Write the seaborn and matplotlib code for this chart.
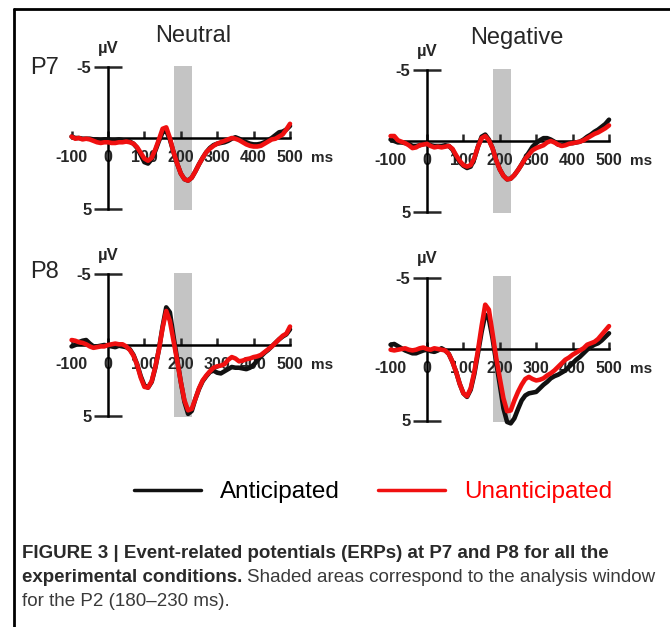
import matplotlib
matplotlib.use("Agg")
import matplotlib.pyplot as plt
import seaborn as sns
import numpy as np
import pandas as pd
from matplotlib.lines import Line2D

# time axis (ms), one reading every 10 ms
times = np.arange(-100, 510, 10)

# ERP amplitudes (uV), -100 .. 500 ms
p7_neutral_ant = [-0.1, 0.0, 0.0, 0.05, 0.05, 0.05, 0.1, 0.1, 0.15, 0.1,
                  0.1, 0.15, 0.15, 0.1, 0.15, 0.2, 0.25, 0.4, 0.7, 1.2,
                  1.7, 1.8, 1.5, 0.9, 0.2, -0.4, -0.5, 0.1, 1.0, 1.8,
                  2.5, 2.9, 3.0, 2.8, 2.35, 1.85, 1.4, 1.0, 0.7, 0.5,
                  0.4, 0.35, 0.3, 0.2, 0.05, -0.05, 0.05, 0.2, 0.3, 0.4,
                  0.45, 0.45, 0.4, 0.3, 0.15, 0.0, -0.2, -0.4, -0.45, -0.6,
                  -0.85]
p7_neutral_unant = [-0.1, 0.05, 0.0, 0.1, 0.05, 0.1, 0.2, 0.3, 0.35, 0.3,
                    0.3, 0.35, 0.35, 0.3, 0.3, 0.25, 0.3, 0.4, 0.65, 1.05,
                    1.45, 1.6, 1.4, 0.8, 0.1, -0.65, -0.75, 0.0, 1.0, 1.8,
                    2.5, 2.9, 3.0, 2.8, 2.35, 1.85, 1.4, 1.0, 0.75, 0.55,
                    0.4, 0.3, 0.2, 0.1, 0.0, 0.05, 0.15, 0.3, 0.45, 0.55,
                    0.6, 0.6, 0.55, 0.4, 0.25, 0.1, 0.05, -0.1, -0.25, -0.6,
                    -1.0]
p7_negative_ant = [-0.1, 0.0, 0.1, 0.1, 0.15, 0.2, 0.35, 0.35, 0.3, 0.2,
                   0.2, 0.3, 0.35, 0.35, 0.35, 0.3, 0.35, 0.6, 1.1, 1.5,
                   1.75, 1.9, 1.8, 1.25, 0.4, -0.3, -0.45, -0.1, 0.5, 1.35,
                   2.0, 2.45, 2.7, 2.65, 2.4, 2.05, 1.65, 1.2, 0.8, 0.4,
                   0.15, -0.05, -0.2, -0.2, -0.1, 0.05, 0.25, 0.3, 0.2, 0.15,
                   0.15, 0.1, 0.05, -0.1, -0.3, -0.45, -0.65, -0.8, -1.0, -1.2,
                   -1.5]
p7_negative_unant = [-0.35, -0.35, -0.05, 0.05, 0.15, 0.3, 0.5, 0.45, 0.3, 0.25,
                     0.2, 0.35, 0.45, 0.4, 0.45, 0.4, 0.35, 0.55, 1.0, 1.4,
                     1.7, 1.8, 1.7, 1.2, 0.4, -0.2, -0.35, -0.05, 0.5, 1.35,
                     2.0, 2.45, 2.7, 2.65, 2.4, 2.05, 1.65, 1.25, 0.95, 0.65,
                     0.5, 0.4, 0.3, 0.1, 0.0, 0.1, 0.25, 0.35, 0.3, 0.2,
                     0.15, 0.1, 0.05, -0.05, -0.2, -0.35, -0.5, -0.6, -0.75, -0.9,
                     -1.1]
p8_neutral_ant = [0.1, 0.0, -0.2, -0.3, -0.35, -0.1, 0.1, 0.1, 0.05, 0.0,
                  0.05, 0.1, 0.15, 0.05, 0.1, 0.15, 0.3, 0.7, 1.35, 2.2,
                  2.85, 3.0, 2.6, 1.6, 0.3, -1.3, -2.65, -2.3, -0.6, 1.0,
                  2.6, 4.0, 4.85, 4.65, 3.8, 3.1, 2.55, 2.2, 1.9, 1.8,
                  1.95, 2.0, 1.85, 1.7, 1.55, 1.6, 1.6, 1.65, 1.7, 1.6,
                  1.4, 1.1, 0.8, 0.55, 0.35, 0.1, -0.15, -0.4, -0.6, -0.75,
                  -1.1]
p8_neutral_unant = [-0.35, -0.3, -0.2, -0.15, -0.05, 0.1, 0.2, 0.15, 0.1, 0.1,
                    0.0, -0.05, -0.1, -0.05, -0.05, 0.1, 0.35, 0.75, 1.4, 2.3,
                    2.95, 3.0, 2.55, 1.55, 0.3, -1.2, -2.4, -1.7, -0.3, 1.1,
                    2.6, 3.9, 4.6, 4.5, 3.8, 3.05, 2.5, 2.15, 1.85, 1.6,
                    1.5, 1.45, 1.35, 1.05, 0.85, 0.95, 1.15, 1.1, 1.0, 0.95,
                    0.85, 0.8, 0.7, 0.5, 0.3, 0.1, -0.15, -0.4, -0.65, -0.8,
                    -1.3]
p8_negative_ant = [-0.3, -0.35, -0.2, -0.05, 0.1, 0.2, 0.3, 0.3, 0.2, 0.1,
                   0.05, 0.15, 0.2, 0.1, -0.05, 0.1, 0.35, 0.9, 1.6, 2.45,
                   3.1, 3.35, 2.85, 1.75, 0.3, -1.2, -2.4, -2.1, -0.75, 0.9,
                   2.5, 4.15, 5.1, 5.2, 4.85, 4.2, 3.6, 3.25, 3.1, 3.05,
                   3.0, 2.75, 2.5, 2.3, 2.05, 1.9, 1.8, 1.65, 1.5, 1.25,
                   1.0, 0.75, 0.55, 0.3, 0.05, -0.15, -0.3, -0.4, -0.6, -0.85,
                   -1.1]
p8_negative_unant = [0.05, 0.1, 0.05, 0.0, -0.05, 0.05, 0.1, 0.05, -0.05, -0.1,
                     0.0, 0.05, -0.05, 0.0, 0.05, 0.1, 0.35, 0.9, 1.6, 2.45,
                     3.1, 3.3, 2.75, 1.6, 0.1, -1.6, -3.1, -2.75, -1.1, 0.6,
                     2.05, 3.45, 4.35, 4.3, 3.6, 3.0, 2.5, 2.1, 1.95, 2.1,
                     2.2, 2.15, 2.05, 1.85, 1.7, 1.5, 1.25, 1.0, 0.75, 0.6,
                     0.4, 0.25, 0.1, -0.05, -0.3, -0.4, -0.5, -0.7, -1.0, -1.3,
                     -1.6]

x_ticks = [-100, 0, 100, 200, 300, 400, 500]
x_tick_labels = ["-100", "0", "100", "200", "300", "400", "500"]
y_ticks = [-5, 5]
y_tick_labels = ["-5", "5"]
p2_window = (180, 230)
conditions = ["Anticipated", "Unanticipated"]
colors = ["#111111", "#f01010"]

sns.set_style("ticks")
plt.rcParams['font.family'] = ['Liberation Sans', 'DejaVu Sans']

W, H = 670, 627
fig = plt.figure(figsize=(W / 100, H / 100), dpi=100)

MS_PX = 0.364  # pixels per ms

# (pixel x of t=0, pixel y of 0 uV, pixels per uV, series)
panels = [
    (108, 138, 14.2, p7_neutral_ant, p7_neutral_unant),
    (427, 141, 14.2, p7_negative_ant, p7_negative_unant),
    (108, 345, 14.2, p8_neutral_ant, p8_neutral_unant),
    (427, 349, 14.3, p8_negative_ant, p8_negative_unant),
]

for t0, y0, uv, ant, unant in panels:
    left = (t0 - 110 * MS_PX) / W
    bottom = 1 - (y0 + 5.6 * uv) / H
    ax = fig.add_axes([left, bottom, 630 * MS_PX / W, 11.2 * uv / H])
    ax.patch.set_alpha(0)
    ax.set_xlim(-110, 520)
    ax.set_ylim(5.6, -5.6)

    # analysis window for the P2
    ax.fill_betweenx([-5.1, 5.1], p2_window[0], p2_window[1],
                     color='#c4c4c4', lw=0, zorder=0)

    df = pd.DataFrame({'ms': np.tile(times, 2),
                       'uV': np.concatenate([ant, unant]),
                       'cond': np.repeat(conditions, len(times))})
    sns.lineplot(data=df, x='ms', y='uV', hue='cond', palette=colors,
                 linewidth=3.3, legend=False, ax=ax, zorder=3)
    ax.set_xlabel('')
    ax.set_ylabel('')

    for s in ['top', 'right']:
        ax.spines[s].set_visible(False)
    ax.spines['left'].set_position(('data', 0))
    ax.spines['left'].set_bounds(-5, 5)
    ax.spines['bottom'].set_position(('data', 0))
    ax.spines['bottom'].set_bounds(-100, 500)
    for s in ['left', 'bottom']:
        ax.spines[s].set_linewidth(1.8)
        ax.spines[s].set_color('black')
        ax.spines[s].set_zorder(2)

    ax.set_xticks(x_ticks)
    ax.set_xticklabels(x_tick_labels, fontweight='bold', fontsize=11.5)
    ax.set_yticks(y_ticks)
    ax.set_yticklabels(y_tick_labels, fontweight='bold', fontsize=12)
    ax.tick_params(axis='x', direction='in', length=5, width=1.8, pad=8.5)
    ax.tick_params(axis='y', direction='inout', length=20, width=1.8, pad=2)

    ax.annotate('µV', xy=(0, -5), xytext=(0, 8), textcoords='offset points',
                ha='center', va='bottom', fontweight='bold', fontsize=12,
                annotation_clip=False)
    ax.annotate('ms', xy=(500, 0), xytext=(15, -14.5), textcoords='offset points',
                ha='left', va='center', fontweight='bold', fontsize=11,
                annotation_clip=False)

fig.text(193 / W, 1 - 36 / H, 'Neutral', ha='center', va='center', fontsize=17)
fig.text(517 / W, 1 - 38 / H, 'Negative', ha='center', va='center', fontsize=17)
fig.text(45 / W, 1 - 68 / H, 'P7', ha='center', va='center', fontsize=17)
fig.text(45 / W, 1 - 272 / H, 'P8', ha='center', va='center', fontsize=17)

handles = [Line2D([], [], color=c, lw=2.5) for c in colors]
leg = fig.legend(handles, conditions, loc='center',
                 bbox_to_anchor=(373 / W, 1 - 492 / H), ncol=2, frameon=False,
                 fontsize=17.5, handlelength=2.75, handletextpad=0.8,
                 columnspacing=1.55)
for txt, c in zip(leg.get_texts(), ['black', '#ff0000']):
    txt.set_color(c)

# frame around the figure
fig.add_artist(Line2D([14 / W, 14 / W], [0, 1 - 9 / H], transform=fig.transFigure,
                      color='black', lw=2))
fig.add_artist(Line2D([14 / W, 1], [1 - 9 / H, 1 - 9 / H], transform=fig.transFigure,
                      color='black', lw=2))

# caption
cap_color = '#2a2a2a'
fig.text(22 / W, 1 - 553 / H,
         'FIGURE 3 | Event-related potentials (ERPs) at P7 and P8 for all the',
         fontweight='bold', fontsize=13.5, va='center', color=cap_color)
t2 = fig.text(22 / W, 1 - 578 / H, 'experimental conditions.',
              fontweight='bold', fontsize=13.5, va='center', color=cap_color)
fig.text(22 / W, 1 - 602 / H, 'for the P2 (180–230 ms).',
         fontsize=13.5, va='center', color='#3a3a3a')
fig.canvas.draw()
bb = t2.get_window_extent()
fig.text((bb.x1 + 5) / W, 1 - 578 / H,
         'Shaded areas correspond to the analysis window',
         fontsize=13.5, va='center', color='#3a3a3a')

fig.savefig('out.png', dpi=100)
